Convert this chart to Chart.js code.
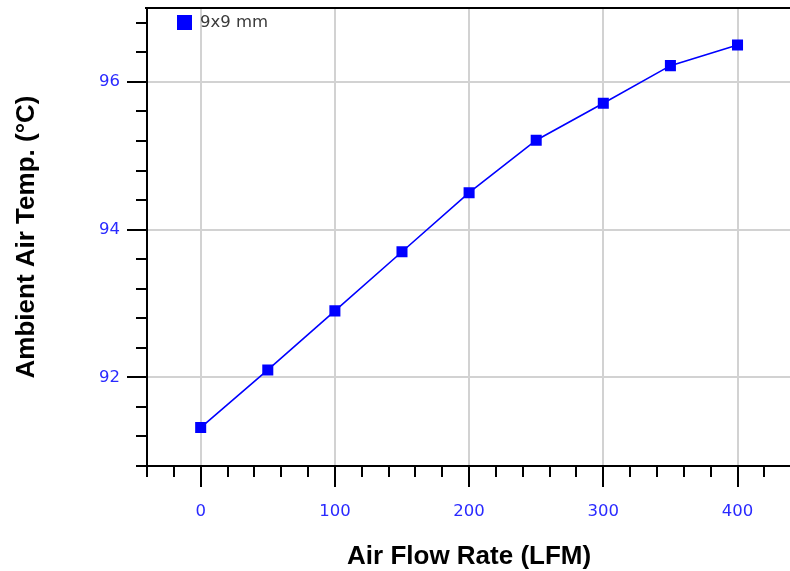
<!DOCTYPE html>
<html>
<head>
<meta charset="utf-8">
<script src="https://cdn.jsdelivr.net/npm/chart.js@4.4.1/dist/chart.umd.min.js"></script>
<style>
  html, body { margin: 0; padding: 0; background: #fff; overflow: hidden; }
  canvas { display: block; }
</style>
</head>
<body>
<canvas id="c" width="799" height="571"></canvas>
<script>
// ---- data ----
const seriesLabel = '9x9 mm';
const airFlow = [0, 50, 100, 150, 200, 250, 300, 350, 400];
const ambientTemp = [91.32, 92.10, 92.90, 93.70, 94.50, 95.21, 95.71, 96.22, 96.50];
const xTicks = [-40, -20, 0, 20, 40, 60, 80, 100, 120, 140, 160, 180, 200, 220, 240, 260, 280, 300, 320, 340, 360, 380, 400, 420, 440];
const xMajor = [0, 100, 200, 300, 400];
const yTicks = [90.8, 91.2, 91.6, 92, 92.4, 92.8, 93.2, 93.6, 94, 94.4, 94.8, 95.2, 95.6, 96, 96.4, 96.8];
const yMajor = [92, 94, 96];
const xTitle = 'Air Flow Rate (LFM)';
const yTitle = 'Ambient Air Temp. (°C)';

const isMajor = (arr, v) => arr.some(m => Math.abs(m - v) < 1e-6);
const tickFont = { family: 'DejaVu Sans', size: 16.5 };
const titleFont = { family: 'Liberation Sans', size: 26, weight: 'bold', lineHeight: 1 };
const tickBlue = '#2a2aff';

const extras = {
  id: 'extras',
  afterDraw(chart) {
    const { ctx, chartArea: a, scales: { x, y } } = chart;
    ctx.save();
    ctx.strokeStyle = '#000';
    ctx.lineWidth = 2;
    ctx.beginPath();
    xMajor.forEach(v => {
      const px = Math.round(x.getPixelForValue(v));
      ctx.moveTo(px, a.bottom); ctx.lineTo(px, a.bottom + 21);
    });
    yMajor.forEach(v => {
      const py = Math.round(y.getPixelForValue(v));
      ctx.moveTo(a.left, py); ctx.lineTo(a.left - 20, py);
    });
    ctx.moveTo(a.left - 2, a.top); ctx.lineTo(a.right + 2, a.top);
    ctx.stroke();
    // legend inside plot
    const ds = chart.data.datasets[0];
    ctx.fillStyle = ds.backgroundColor;
    ctx.fillRect(a.left + 30, a.top + 7, 15, 15);
    ctx.fillStyle = '#3a3a3a';
    ctx.font = '16.5px "DejaVu Sans"';
    ctx.textBaseline = 'middle';
    ctx.textAlign = 'left';
    ctx.fillText(ds.label, a.left + 53, a.top + 15);
    ctx.restore();
  }
};

new Chart(document.getElementById('c'), {
  type: 'line',
  data: {
    datasets: [{
      label: seriesLabel,
      data: airFlow.map((v, i) => ({ x: v, y: ambientTemp[i] })),
      borderColor: '#0000ff',
      backgroundColor: '#0000ff',
      borderWidth: 1.6,
      pointStyle: 'rect',
      pointRadius: 7.8,
      pointHoverRadius: 7.8,
      pointBorderWidth: 0,
      tension: 0,
      fill: false
    }]
  },
  options: {
    responsive: false,
    animation: false,
    devicePixelRatio: 1,
    layout: { padding: { top: 8, right: 0, left: 0, bottom: 0 } },
    plugins: { legend: { display: false }, tooltip: { enabled: false } },
    scales: {
      x: {
        type: 'linear',
        min: -40,
        max: 440,
        afterBuildTicks: s => { s.ticks = xTicks.map(v => ({ value: v })); },
        afterFit: s => { s.height = 105; s.paddingLeft = 0; s.paddingRight = 0; },
        border: { display: true, color: '#000', width: 2 },
        grid: {
          color: c => (c.tick && isMajor(xMajor, c.tick.value)) ? '#d2d2d2' : 'rgba(0,0,0,0)',
          lineWidth: 2,
          tickColor: '#000',
          tickWidth: 2,
          tickLength: 11,
          drawTicks: true
        },
        ticks: {
          autoSkip: false,
          maxRotation: 0,
          padding: 25,
          color: tickBlue,
          font: tickFont,
          callback: v => isMajor(xMajor, v) ? String(v) : ''
        },
        title: {
          display: true,
          text: xTitle,
          color: '#000',
          font: titleFont,
          padding: { top: 0, bottom: 1 }
        }
      },
      y: {
        type: 'linear',
        min: 90.8,
        max: 97.0,
        afterBuildTicks: s => { s.ticks = yTicks.map(v => ({ value: v })); },
        afterFit: s => { s.width = 147; s.paddingTop = 0; s.paddingBottom = 0; },
        border: { display: true, color: '#000', width: 2 },
        grid: {
          color: c => (c.tick && isMajor(yMajor, c.tick.value)) ? '#d2d2d2' : 'rgba(0,0,0,0)',
          lineWidth: 2,
          tickColor: '#000',
          tickWidth: 2,
          tickLength: 11,
          drawTicks: true
        },
        ticks: {
          autoSkip: false,
          padding: 16,
          color: tickBlue,
          font: tickFont,
          callback: v => isMajor(yMajor, v) ? String(Math.round(v)) : ''
        },
        title: {
          display: true,
          text: yTitle,
          color: '#000',
          font: titleFont,
          padding: { top: 13.5, bottom: 0 }
        }
      }
    }
  },
  plugins: [extras]
});
</script>
</body>
</html>
